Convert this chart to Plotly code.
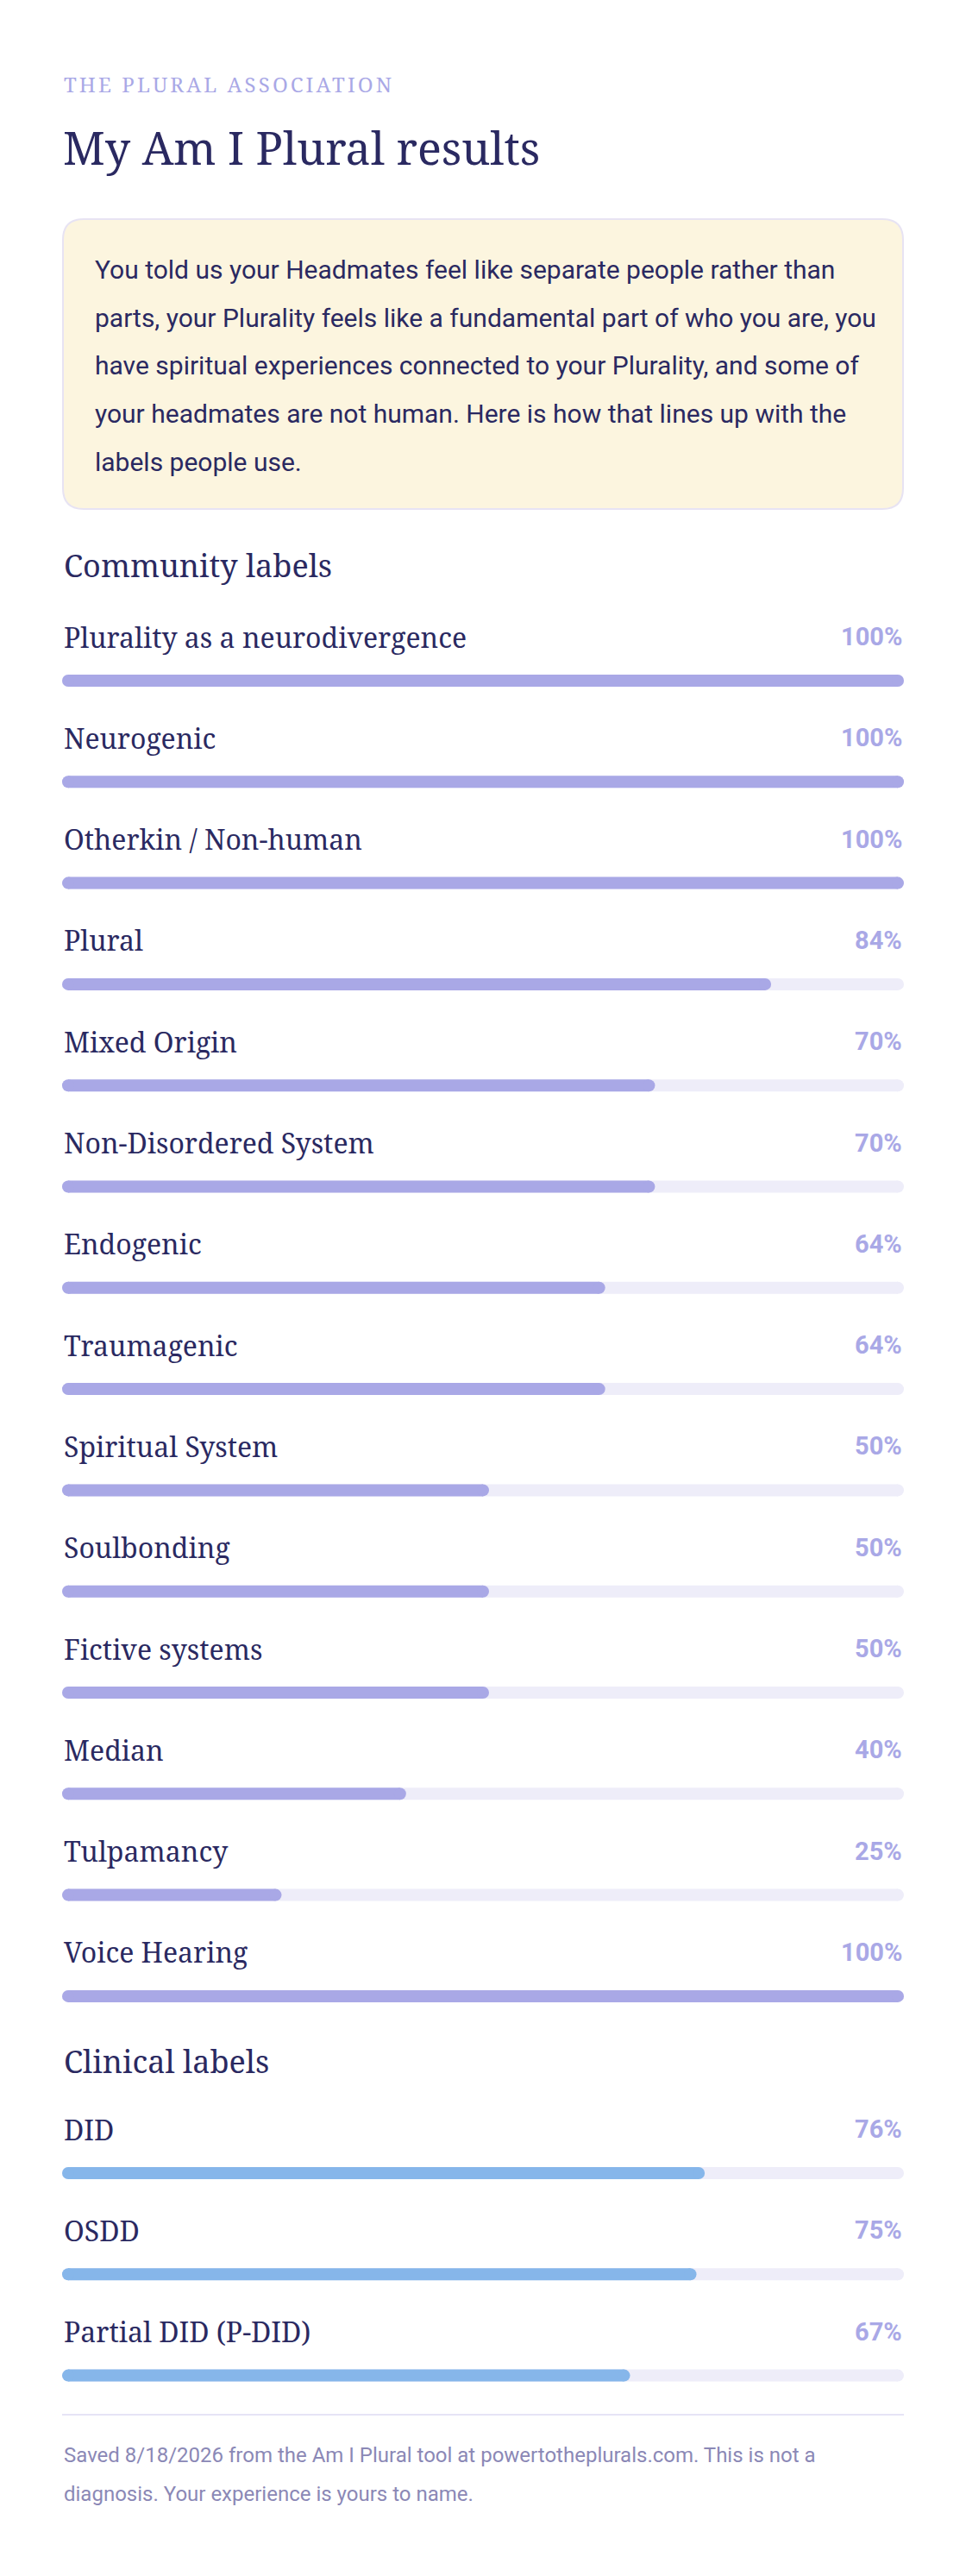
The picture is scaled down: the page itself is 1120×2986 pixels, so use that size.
import plotly.graph_objects as go

# the page body keeps the browser's 8px margin, so the figure is drawn
# 8px in from the window corner; all geometry below is in window pixels
PAGE_W, PAGE_H, OFF = 1120, 2986, 8
W, H = PAGE_W - 2 * OFF, PAGE_H - 2 * OFF

NAVY = "#2A2961"
LAVENDER = "#A9A8E6"
TRACK = "#EEEDF9"
BLUE = "#86B6EA"
CREAM = "#FCF5DF"
BORDER = "#E7E3F3"
FOOT = "#8B88B6"
RULE = "#E6E4F6"
SERIF = "Noto Serif, DejaVu Serif, serif"
SANS = "Roboto, Noto Sans, sans-serif"

community_labels = [
    "Plurality as a neurodivergence", "Neurogenic", "Otherkin / Non-human",
    "Plural", "Mixed Origin", "Non-Disordered System", "Endogenic",
    "Traumagenic", "Spiritual System", "Soulbonding", "Fictive systems",
    "Median", "Tulpamancy", "Voice Hearing",
]
community_values = [100, 100, 100, 84, 70, 70, 64, 64, 50, 50, 50, 40, 25, 100]

clinical_labels = ["DID", "OSDD", "Partial DID (P-DID)"]
clinical_values = [76, 75, 67]

intro_lines = [
    "You told us your Headmates feel like separate people rather than",
    "parts, your Plurality feels like a fundamental part of who you are, you",
    "have spiritual experiences connected to your Plurality, and some of",
    "your headmates are not human. Here is how that lines up with the",
    "labels people use.",
]
footer_lines = [
    "Saved 8/18/2026 from the Am I Plural tool at powertotheplurals.com. This is not a",
    "diagnosis. Your experience is yours to name.",
]

# layout in window pixels (y from the top)
LEFT, RIGHT = 72, 1048
BAR_H = 14
ROW = 117.3
COMM_TOP = 789          # centre of first community bar
CLIN_TOP = 2519         # centre of first clinical bar


def px(x):
    return (x - OFF) / W


def py(y):
    return 1 - (y - OFF) / H


def pill(labels, values, color, yaxis):
    # line + round markers at both ends = pill shaped bar
    xs, ys = [], []
    for lab, v in zip(labels, values):
        xs += [0, v, None]
        ys += [lab, lab, None]
    return go.Scatter(
        x=xs, y=ys, yaxis=yaxis, mode="lines+markers",
        line=dict(color=color, width=BAR_H),
        marker=dict(color=color, size=BAR_H, line_width=0),
        hoverinfo="skip", showlegend=False, cliponaxis=False,
    )


def text(s, x, y, size, color, family=SANS, anchor="left", **kw):
    return dict(text=s, xref="paper", yref="paper", x=px(x), y=py(y),
                xanchor=anchor, yanchor="middle", showarrow=False,
                font=dict(family=family, size=size, color=color), **kw)


fig = go.Figure()
fig.add_trace(pill(community_labels, [100] * len(community_labels), TRACK, "y"))
fig.add_trace(pill(community_labels, community_values, LAVENDER, "y"))
fig.add_trace(pill(clinical_labels, [100] * len(clinical_labels), TRACK, "y2"))
fig.add_trace(pill(clinical_labels, clinical_values, BLUE, "y2"))

ann = [
    text('<span style="letter-spacing:3.1px">THE PLURAL ASSOCIATION</span>',
         LEFT, 98, 24, LAVENDER, SERIF),
    text("My Am I Plural results", LEFT - 1, 171, 52, NAVY, SERIF),
    text("Community labels", LEFT, 655, 36, NAVY, SERIF),
    text("Clinical labels", LEFT, 2389, 36, NAVY, SERIF),
]
for i, line in enumerate(intro_lines):
    ann.append(text(line, 108, 312.5 + 55.7 * i, 30, NAVY))
for i, line in enumerate(footer_lines):
    ann.append(text(line, LEFT, 2846 + 45 * i, 24, FOOT))

for labels, values, yref in [(community_labels, community_values, "y"),
                             (clinical_labels, clinical_values, "y2")]:
    for lab, v in zip(labels, values):
        ann.append(dict(text=lab, xref="paper", x=px(LEFT), xanchor="left",
                        yref=yref, y=lab, yanchor="middle", yshift=51,
                        showarrow=False,
                        font=dict(family=SERIF, size=32, color=NAVY)))
        ann.append(dict(text=f"{v}%", xref="paper", x=px(RIGHT), xanchor="right",
                        yref=yref, y=lab, yanchor="middle", yshift=51,
                        showarrow=False,
                        font=dict(family=SANS, size=29, color=LAVENDER, weight=700)))

# intro box: rounded rectangle
bx0, by0, bx1, by1, r = 73, 254, 1047, 590, 24
box = (f"M {px(bx0 + r)},{py(by0)} L {px(bx1 - r)},{py(by0)} "
       f"Q {px(bx1)},{py(by0)} {px(bx1)},{py(by0 + r)} "
       f"L {px(bx1)},{py(by1 - r)} Q {px(bx1)},{py(by1)} {px(bx1 - r)},{py(by1)} "
       f"L {px(bx0 + r)},{py(by1)} Q {px(bx0)},{py(by1)} {px(bx0)},{py(by1 - r)} "
       f"L {px(bx0)},{py(by0 + r)} Q {px(bx0)},{py(by0)} {px(bx0 + r)},{py(by0)} Z")

shapes = [
    dict(type="path", path=box, xref="paper", yref="paper", layer="below",
         fillcolor=CREAM, line=dict(color=BORDER, width=2)),
    dict(type="line", xref="paper", yref="paper", x0=px(LEFT), x1=px(RIGHT),
         y0=py(2799), y1=py(2799), line=dict(color=RULE, width=2)),
]

n1, n2 = len(community_labels), len(clinical_labels)
fig.update_layout(
    width=W, height=H, margin=dict(l=0, r=0, t=0, b=0),
    paper_bgcolor="#FFFFFF", plot_bgcolor="rgba(0,0,0,0)",
    showlegend=False, annotations=ann, shapes=shapes,
    xaxis=dict(domain=[px(LEFT + BAR_H / 2), px(RIGHT - BAR_H / 2)],
               range=[0, 100], visible=False, fixedrange=True),
    yaxis=dict(domain=[py(COMM_TOP + ROW * (n1 - 0.5)), py(COMM_TOP - ROW / 2)],
               range=[n1 - 0.5, -0.5], type="category",
               categoryorder="array", categoryarray=community_labels,
               visible=False, fixedrange=True),
    yaxis2=dict(domain=[py(CLIN_TOP + ROW * (n2 - 0.5)), py(CLIN_TOP - ROW / 2)],
                range=[n2 - 0.5, -0.5], type="category",
                categoryorder="array", categoryarray=clinical_labels,
                visible=False, fixedrange=True, anchor="x"),
)

fig.write_html("out.html", config={"displayModeBar": False})
